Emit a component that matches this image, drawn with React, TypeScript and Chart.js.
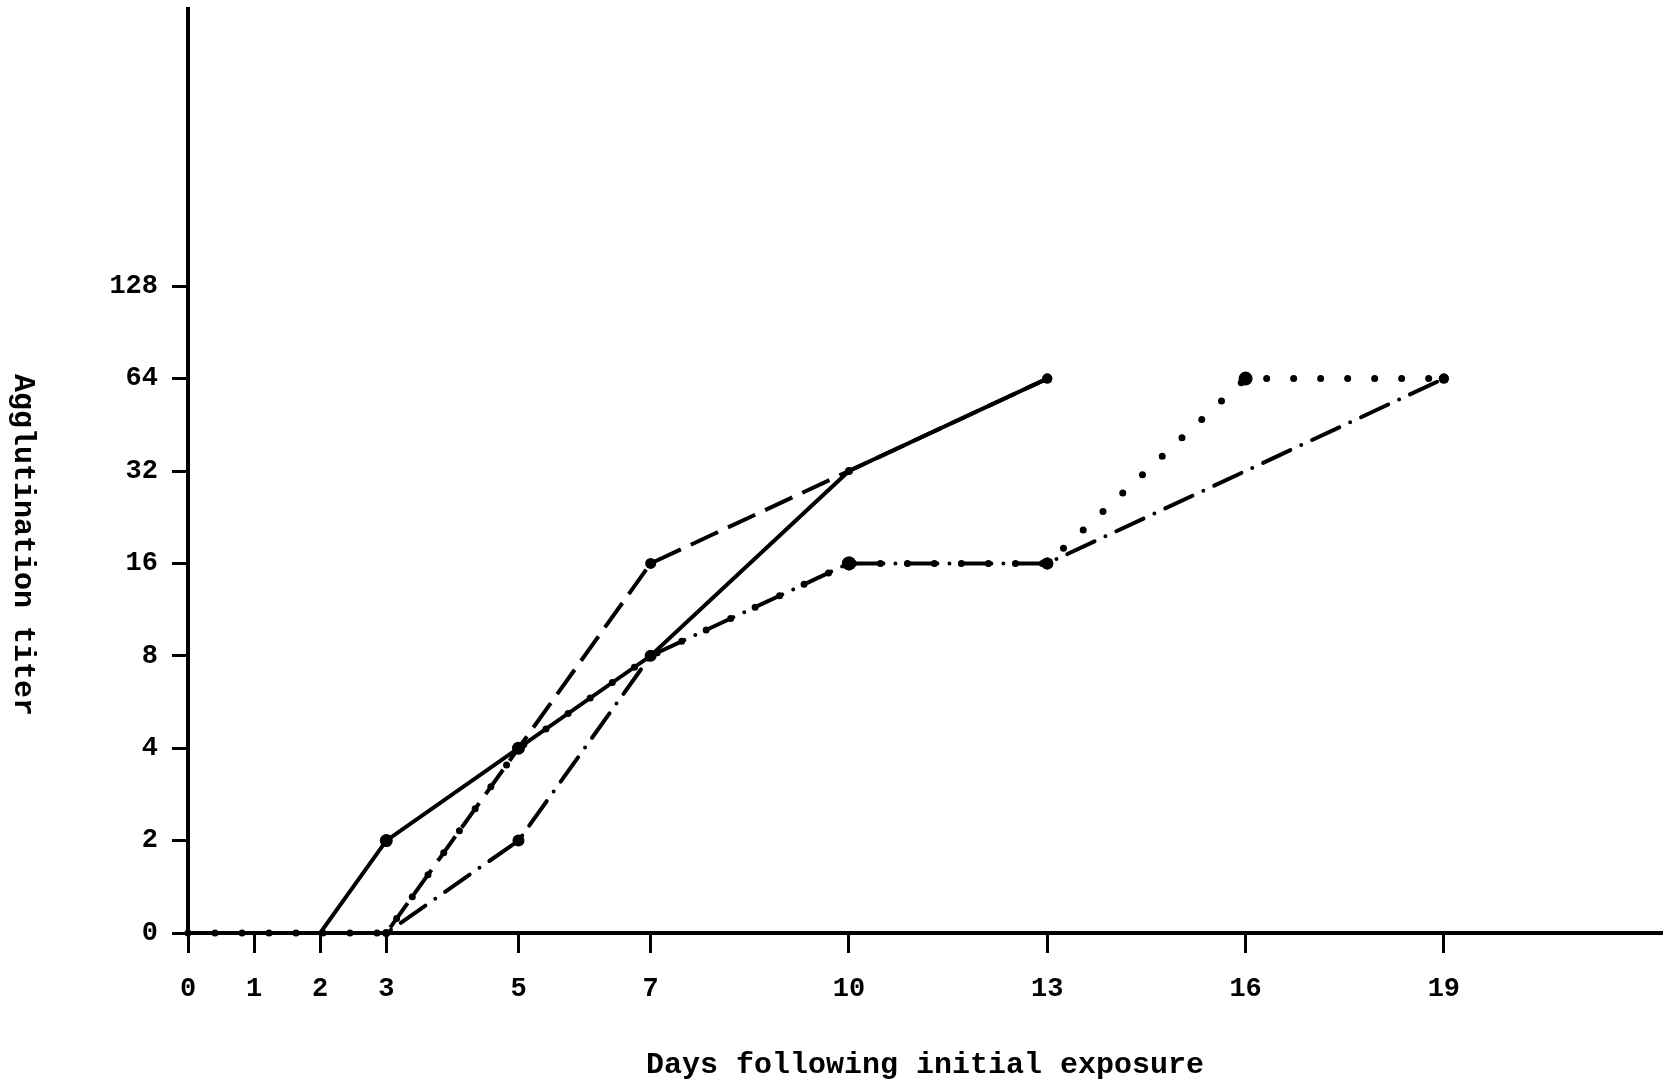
import React, { useEffect, useRef } from 'react';
import { Chart, registerables } from 'chart.js';

Chart.register(...registerables);

// Axis ticks
const dayTicks = [0, 1, 2, 3, 5, 7, 10, 13, 16, 19];
const titerTicks = [0, 2, 4, 8, 16, 32, 64, 128];

// Series (day, agglutination titer)
const solidDays = [0, 2, 3, 5, 7, 10, 13];
const solidTiters = [0, 0, 2, 4, 8, 32, 64];

const dashedDays = [0, 3, 5, 7, 10, 13];
const dashedTiters = [0, 0, 4, 16, 32, 64];

const dottedDays = [0, 3, 5, 7, 10, 13, 16, 19];
const dottedTiters = [0, 0, 4, 8, 16, 16, 64, 64];

const dashDotDays = [0, 3, 5, 7, 10, 13, 19];
const dashDotTiters = [0, 0, 2, 8, 16, 16, 64];

const xTitle = 'Days following initial exposure';
const yTitle = 'Agglutination titer';

// titer -> doubling level (0 is drawn at the baseline)
const toLevel = (t: number) => (t <= 0 ? 0 : Math.log2(t));

const FONT = "'Liberation Mono', 'DejaVu Sans Mono', monospace";
const INK = '#000';

const yTitlePlugin = {
  id: 'yTitleClockwise',
  afterDraw(chart: any) {
    const ctx = chart.ctx;
    ctx.save();
    ctx.font = `bold 30px ${FONT}`;
    ctx.fillStyle = INK;
    ctx.textAlign = 'center';
    ctx.textBaseline = 'middle';
    ctx.translate(23, 545);
    ctx.rotate(Math.PI / 2);
    ctx.fillText(yTitle, 0, 0);
    ctx.restore();
  },
};

export default function App() {
  const ref = useRef<HTMLCanvasElement>(null);

  useEffect(() => {
    document.body.style.margin = '0';
    const canvas = ref.current;
    if (!canvas) return;
    const mk = (days: number[], titers: number[]) =>
      days.map((d, i) => ({ x: d, y: toLevel(titers[i]) }));

    const common = {
      borderColor: '#000',
      backgroundColor: '#000',
      pointBackgroundColor: '#000',
      pointBorderColor: '#000',
      pointBorderWidth: 0,
      tension: 0,
      clip: false as any,
      fill: false,
    };

    const chart = new Chart(canvas, {
      type: 'line',
      data: {
        datasets: [
          {
            ...common,
            label: 'solid',
            data: mk(solidDays, solidTiters),
            borderWidth: 4,
            pointRadius: [0, 0, 6.5, 6.5, 6, 4, 5],
          },
          {
            ...common,
            label: 'dashed',
            data: mk(dashedDays, dashedTiters),
            borderWidth: 4,
            borderDash: [30, 11],
            pointRadius: [0, 0, 0, 5.5, 0, 5],
          },
          {
            ...common,
            label: 'dotted',
            data: mk(dottedDays, dottedTiters),
            borderWidth: 7,
            borderDash: [0, 27],
            borderCapStyle: 'round',
            pointRadius: [0, 4, 0, 0, 7, 6, 7, 5],
          },
          {
            ...common,
            label: 'dash-dot',
            data: mk(dashDotDays, dashDotTiters),
            borderWidth: 4,
            borderDash: [30, 12, 0, 12],
            borderCapStyle: 'round',
            pointRadius: [0, 0, 6, 0, 7, 6, 5],
          },
        ] as any,
      },
      options: {
        responsive: false,
        animation: false,
        layout: { padding: { left: 0, top: 9, right: 5, bottom: 0 } },
        plugins: {
          legend: { display: false },
          tooltip: { enabled: false },
        },
        scales: {
          x: {
            type: 'linear',
            min: 0,
            max: 22.3,
            afterBuildTicks: (s: any) => {
              s.ticks = dayTicks.map((v) => ({ value: v }));
            },
            afterFit: (s: any) => {
              s.height = 154;
              s.paddingLeft = 0;
              s.paddingRight = 0;
            },
            ticks: {
              autoSkip: false,
              maxRotation: 0,
              padding: 20,
              color: INK,
              font: { family: FONT, size: 27, weight: 'bold' },
              callback: (v: any) => String(v),
            },
            grid: {
              drawOnChartArea: false,
              drawTicks: true,
              tickLength: 20,
              tickWidth: 3,
              tickColor: '#000',
            },
            border: { display: true, color: '#000', width: 4 },
            title: {
              display: true,
              text: xTitle,
              color: INK,
              font: { family: FONT, size: 30, weight: 'bold' },
              padding: { top: 0, bottom: 4 },
            },
          },
          y: {
            type: 'linear',
            min: 0,
            max: 10,
            afterBuildTicks: (s: any) => {
              s.ticks = titerTicks.map((t) => ({ value: toLevel(t) }));
            },
            afterFit: (s: any) => {
              s.width = 188;
              s.paddingTop = 0;
              s.paddingBottom = 0;
            },
            ticks: {
              padding: 14,
              color: INK,
              font: { family: FONT, size: 27, weight: 'bold' },
              callback: (_v: any, i: number) => String(titerTicks[i]),
            },
            grid: {
              drawOnChartArea: false,
              drawTicks: true,
              tickLength: 16,
              tickWidth: 3,
              tickColor: '#000',
            },
            border: { display: true, color: '#000', width: 4 },
          },
        },
      } as any,
      plugins: [yTitlePlugin],
    });

    return () => chart.destroy();
  }, []);

  return (
    <div style={{ width: 1667, height: 1087, background: '#fff' }}>
      <canvas ref={ref} width={1667} height={1087} style={{ display: 'block' }} />
    </div>
  );
}
